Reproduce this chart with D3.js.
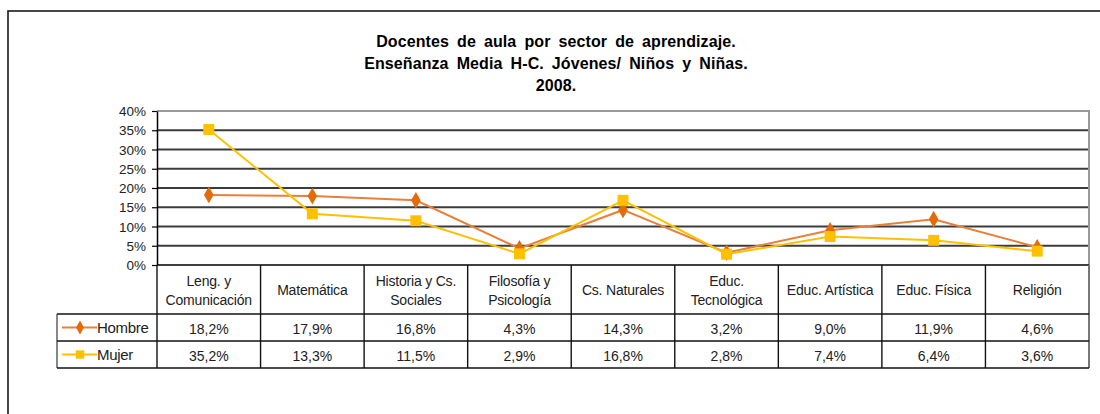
<!DOCTYPE html>
<html>
<head>
<meta charset="utf-8">
<script src="https://cdn.jsdelivr.net/npm/d3@7"></script>
<style>
html,body{margin:0;padding:0;background:#fff;}
svg{display:block;font-family:"Liberation Sans",Arial,sans-serif;}
</style>
</head>
<body>
<svg id="chart" width="1100" height="414"></svg>
<script>
const titleLines = ["Docentes de aula por sector de aprendizaje.", "Enseñanza Media H-C. Jóvenes/ Niños y Niñas.", "2008."];
const categories = ["Leng. y\nComunicación", "Matemática", "Historia y Cs.\nSociales", "Filosofía y\nPsicología", "Cs. Naturales", "Educ.\nTecnológica", "Educ. Artística", "Educ. Física", "Religión"];
const hombre = [18.2, 17.9, 16.8, 4.3, 14.3, 3.2, 9.0, 11.9, 4.6];
const mujer = [35.2, 13.3, 11.5, 2.9, 16.8, 2.8, 7.4, 6.4, 3.6];
const seriesNames = ["Hombre", "Mujer"];
const yTicks = [0, 5, 10, 15, 20, 25, 30, 35, 40];

(function () {
const svg = d3.select("#chart");
const fmt = v => d3.format(".1f")(v).replace(".", ",") + "%";

// outer frame
svg.append("rect").attr("x", 8).attr("y", 11).attr("width", 1200).attr("height", 500)
  .attr("fill", "none").attr("stroke", "#1a1a1a").attr("stroke-width", 1.6);

// title
svg.append("g").selectAll("text").data(titleLines).join("text")
  .attr("x", 556).attr("y", (d, i) => 47 + i * 22)
  .attr("text-anchor", "middle").attr("font-size", 16).attr("font-weight", "bold")
  .attr("letter-spacing", 0.1).attr("word-spacing", 3.5)
  .attr("fill", "#000").text(d => d);

const pLeft = 157, pRight = 1089, pTop = 111, pBottom = 265;
const x = d3.scaleBand().domain(categories).range([pLeft, pRight]).padding(0);
const y = d3.scaleLinear().domain([0, 40]).range([pBottom, pTop]);

// gridlines
svg.append("g").selectAll("line").data(yTicks.filter(t => t > 0 && t < 40)).join("line")
  .attr("x1", pLeft).attr("x2", pRight).attr("y1", d => y(d)).attr("y2", d => y(d))
  .attr("stroke", "#3c3c3c").attr("stroke-width", 1.8);
// plot border top/right
svg.append("path").attr("d", `M${pLeft},${y(40)}H${pRight}V${pBottom}`)
  .attr("fill", "none").attr("stroke", "#9a9a9a").attr("stroke-width", 2);

// y axis
const yAxis = d3.axisLeft(y).tickValues(yTicks).tickFormat(d => d + "%").tickSize(5).tickSizeOuter(0);
const ga = svg.append("g").attr("transform", `translate(${pLeft},0)`).call(yAxis);
ga.select(".domain").attr("stroke", "#000").attr("stroke-width", 1.5);
ga.selectAll(".tick line").attr("stroke", "#000").attr("stroke-width", 1.2);
ga.selectAll(".tick text").attr("font-size", 13.5).attr("fill", "#222")
  .attr("font-family", "'Liberation Sans',Arial,sans-serif").attr("x", -11).attr("dy", "0.34em");

// baseline
svg.append("line").attr("x1", pLeft).attr("x2", pRight).attr("y1", pBottom).attr("y2", pBottom)
  .attr("stroke", "#000").attr("stroke-width", 1.5);

// table
const rowH = [pBottom, 314, 341, 368];
const tbl = svg.append("g").attr("stroke", "#111").attr("stroke-width", 1.4).attr("fill", "none");
categories.forEach(c => {
  tbl.append("line").attr("x1", x(c)).attr("x2", x(c)).attr("y1", pBottom).attr("y2", 368);
});
tbl.append("line").attr("x1", pRight).attr("x2", pRight).attr("y1", pBottom).attr("y2", 368).attr("stroke", "#777").attr("stroke-width", 2);
tbl.append("line").attr("x1", 57).attr("x2", 57).attr("y1", 314).attr("y2", 368).attr("stroke", "#555");
[314, 341, 368].forEach(yy => {
  tbl.append("line").attr("x1", 57).attr("x2", pRight).attr("y1", yy).attr("y2", yy);
});

// header text
const hdr = svg.append("g").attr("font-size", 14).attr("fill", "#222").attr("text-anchor", "middle");
categories.forEach(c => {
  const lines = c.split("\n");
  const cx = x(c) + x.bandwidth() / 2;
  lines.forEach((ln, i) => {
    hdr.append("text").attr("x", cx)
      .attr("y", lines.length === 1 ? 295 : 286 + i * 19)
      .attr("letter-spacing", -0.2).text(ln);
  });
});

// values
[hombre, mujer].forEach((arr, r) => {
  svg.append("g").selectAll("text").data(arr).join("text")
    .attr("x", (d, i) => x(categories[i]) + x.bandwidth() / 2)
    .attr("y", (rowH[r + 1] + rowH[r + 2]) / 2 + 6.5)
    .attr("text-anchor", "middle").attr("font-size", 14).attr("fill", "#222")
    .text(d => fmt(d));
});

const colors = {Hombre: {line: "#E8803A", mark: "#E26B0A"}, Mujer: {line: "#FFC000", mark: "#FFC000"}};
const cxOf = i => x(categories[i]) + x.bandwidth() / 2;
const line = d3.line().x((d, i) => cxOf(i)).y(d => y(d));

svg.append("path").datum(hombre).attr("d", line).attr("fill", "none")
  .attr("stroke", colors.Hombre.line).attr("stroke-width", 2);
svg.append("path").datum(mujer).attr("d", line).attr("fill", "none")
  .attr("stroke", colors.Mujer.line).attr("stroke-width", 2);

svg.append("g").selectAll("path").data(hombre).join("path")
  .attr("transform", (d, i) => `translate(${cxOf(i)},${y(d)})`)
  .attr("d", d3.symbol().type(d3.symbolDiamond).size(80)).attr("fill", colors.Hombre.mark);
svg.append("g").selectAll("path").data(mujer).join("path")
  .attr("transform", (d, i) => `translate(${cxOf(i)},${y(d)})`)
  .attr("d", d3.symbol().type(d3.symbolSquare).size(120)).attr("fill", colors.Mujer.mark);

// legend in table
seriesNames.forEach((name, r) => {
  const cy = (rowH[r + 1] + rowH[r + 2]) / 2;
  const g = svg.append("g");
  g.append("line").attr("x1", 62).attr("x2", 97).attr("y1", cy).attr("y2", cy)
    .attr("stroke", colors[name].line).attr("stroke-width", 2);
  g.append("path").attr("transform", `translate(80,${cy})`)
    .attr("d", d3.symbol().type(r === 0 ? d3.symbolDiamond : d3.symbolSquare).size(r === 0 ? 55 : 70))
    .attr("fill", colors[name].mark);
  g.append("text").attr("x", 97).attr("y", cy + 5.5).attr("font-size", 15).attr("fill", "#222")
    .attr("letter-spacing", -0.3).text(name);
});
})();
</script>
</body>
</html>
